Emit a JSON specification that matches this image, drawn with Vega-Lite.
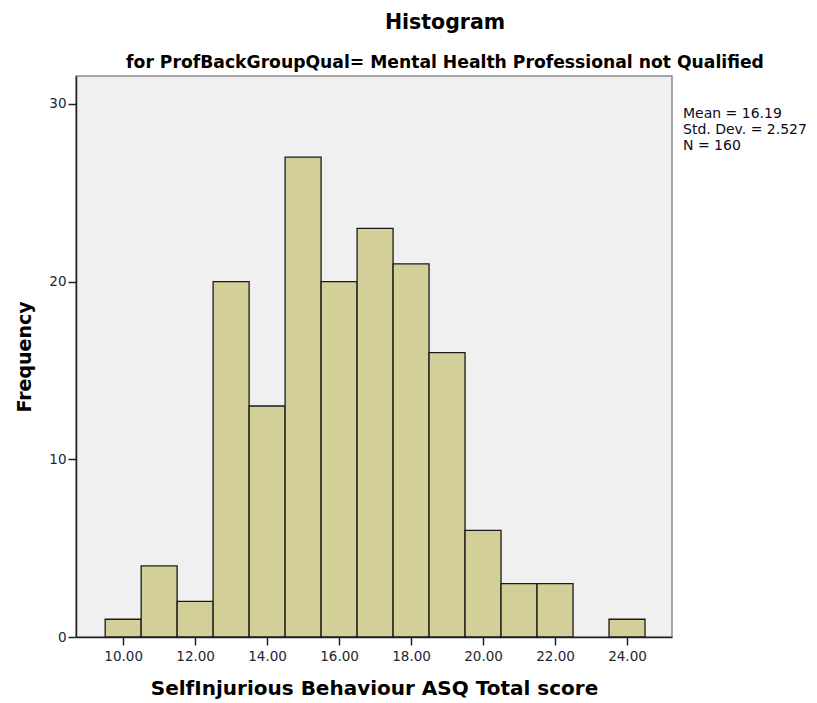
{
  "$schema": "https://vega.github.io/schema/vega-lite/v6.json",
  "width": 596,
  "height": 561,
  "autosize": "none",
  "padding": {"left": 76, "top": 76, "right": 145, "bottom": 66},
  "background": "white",
  "title": {
    "text": "Histogram",
    "subtitle": "for ProfBackGroupQual= Mental Health Professional not Qualified",
    "font": "DejaVu Sans",
    "fontSize": 20.5,
    "fontWeight": "bold",
    "color": "#000000",
    "subtitleFont": "DejaVu Sans",
    "subtitleFontSize": 17.2,
    "subtitleFontWeight": "bold",
    "subtitleColor": "#000000",
    "subtitlePadding": 20,
    "anchor": "middle",
    "frame": "group",
    "dx": 71,
    "offset": 5
  },
  "config": {
    "view": {"fill": "#f0f0f0", "stroke": "#8a8a8a", "strokeWidth": 1.5}
  },
  "data": {
    "values": [
      {"bin_start": 9.5, "bin_end": 10.5, "count": 1},
      {"bin_start": 10.5, "bin_end": 11.5, "count": 4},
      {"bin_start": 11.5, "bin_end": 12.5, "count": 2},
      {"bin_start": 12.5, "bin_end": 13.5, "count": 20},
      {"bin_start": 13.5, "bin_end": 14.5, "count": 13},
      {"bin_start": 14.5, "bin_end": 15.5, "count": 27},
      {"bin_start": 15.5, "bin_end": 16.5, "count": 20},
      {"bin_start": 16.5, "bin_end": 17.5, "count": 23},
      {"bin_start": 17.5, "bin_end": 18.5, "count": 21},
      {"bin_start": 18.5, "bin_end": 19.5, "count": 16},
      {"bin_start": 19.5, "bin_end": 20.5, "count": 6},
      {"bin_start": 20.5, "bin_end": 21.5, "count": 3},
      {"bin_start": 21.5, "bin_end": 22.5, "count": 3},
      {"bin_start": 23.5, "bin_end": 24.5, "count": 1}
    ]
  },
  "layer": [
    {
      "mark": {"type": "rect", "fill": "#d3cf98", "stroke": "#1a1a1a", "strokeWidth": 1.3},
      "encoding": {
        "x": {
          "field": "bin_start",
          "type": "quantitative",
          "scale": {"domain": [8.69, 25.25], "nice": false, "zero": false},
          "axis": {
            "orient": "bottom",
            "values": [10, 12, 14, 16, 18, 20, 22, 24],
            "format": ".2f",
            "grid": false,
            "labelFont": "DejaVu Sans",
            "labelFontSize": 13.5,
            "labelColor": "#1e2530",
            "labelPadding": 4,
            "tickSize": 8,
            "tickColor": "#222222",
            "tickWidth": 1.5,
            "domainColor": "#222222",
            "domainWidth": 1.5,
            "title": "SelfInjurious Behaviour ASQ Total score",
            "titleFont": "DejaVu Sans",
            "titleFontSize": 20,
            "titleFontWeight": "bold",
            "titleColor": "#000000",
            "titlePadding": 16
          }
        },
        "x2": {"field": "bin_end"},
        "y": {
          "field": "count",
          "type": "quantitative",
          "scale": {"domain": [0, 31.57], "nice": false},
          "axis": {
            "values": [0, 10, 20, 30],
            "format": "d",
            "grid": false,
            "labelFont": "DejaVu Sans",
            "labelFontSize": 13.5,
            "labelColor": "#1e2530",
            "labelPadding": 2,
            "tickSize": 8,
            "tickColor": "#222222",
            "tickWidth": 1.5,
            "domainColor": "#222222",
            "domainWidth": 1.5,
            "title": "Frequency",
            "titleFont": "DejaVu Sans",
            "titleFontSize": 19,
            "titleFontWeight": "bold",
            "titleColor": "#000000",
            "titlePadding": 14
          }
        }
      }
    },
    {
      "data": {"values": [{"stats": "summary"}]},
      "mark": {
        "type": "text",
        "align": "left",
        "baseline": "alphabetic",
        "dx": 11,
        "font": "DejaVu Sans",
        "fontSize": 14,
        "lineHeight": 16,
        "fill": "#0a0a1e"
      },
      "encoding": {
        "x": {"datum": 25.25, "type": "quantitative"},
        "y": {"datum": 29.2, "type": "quantitative"},
        "text": {"value": ["Mean = 16.19", "Std. Dev. = 2.527", "N = 160"]}
      }
    }
  ]
}
